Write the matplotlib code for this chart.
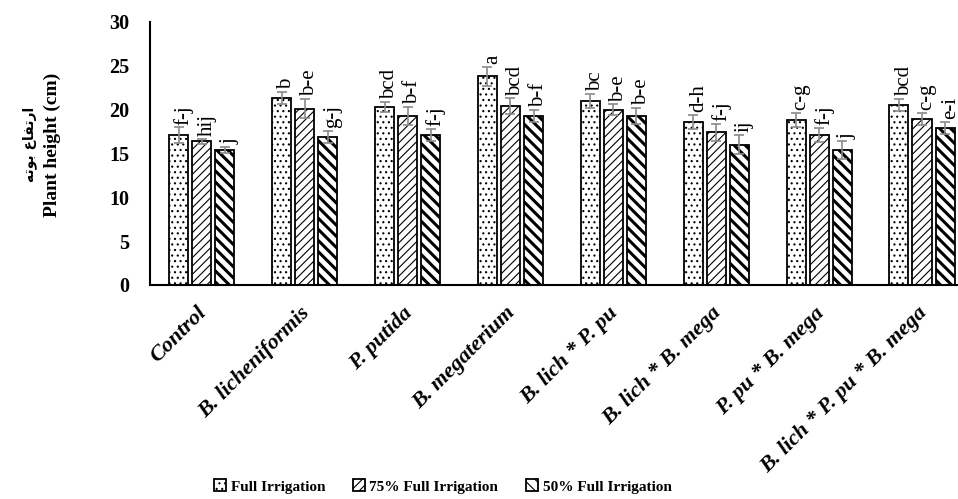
import numpy as np
import matplotlib
matplotlib.use("Agg")
import matplotlib.pyplot as plt
import matplotlib.transforms as mtransforms

plt.rcParams['font.family'] = ['Liberation Serif', 'DejaVu Sans']
plt.rcParams['hatch.linewidth'] = 0.8

# treatments and irrigation levels
treatments = ['Control', 'B. licheniformis', 'P. putida', 'B. megaterium',
              'B. lich * P. pu', 'B. lich * B. mega', 'P. pu * B. mega',
              'B. lich * P. pu * B. mega']
levels = ['Full Irrigation', '75% Full Irrigation', '50% Full Irrigation']

# plant height (cm)
full = [17.1, 21.3, 20.3, 23.8, 21.0, 18.6, 18.8, 20.5]
i75 = [16.4, 20.1, 19.3, 20.4, 20.0, 17.4, 17.1, 18.9]
i50 = [15.4, 16.9, 17.1, 19.3, 19.3, 16.0, 15.4, 17.9]

# standard errors
full_err = [0.9, 0.7, 0.6, 1.1, 0.8, 0.8, 0.8, 0.7]
i75_err = [0.3, 1.1, 1.0, 0.9, 0.6, 1.0, 0.8, 0.7]
i50_err = [0.35, 0.7, 0.7, 0.7, 0.9, 1.1, 1.0, 0.7]

# Duncan letters
full_lab = ['f-j', 'b', 'bcd', 'a', 'bc', 'd-h', 'c-g', 'bcd']
i75_lab = ['hij', 'b-e', 'b-f', 'bcd', 'b-e', 'f-j', 'f-j', 'c-g']
i50_lab = ['j', 'g-j', 'f-j', 'b-f', 'b-e', 'ij', 'j', 'e-i']

fig = plt.figure(figsize=(9.58, 4.99), dpi=100)
ax = fig.add_axes([0.157, 0.429, 0.843, 0.527])

x = np.arange(len(treatments))
w = 0.185
step = 0.224

series = [(full, full_err, full_lab, '...', 0.8),
          (i75, i75_err, i75_lab, '////', 0.8),
          (i50, i50_err, i50_lab, '\\\\\\', 2.2)]

handles = []
for k, (vals, errs, labs, hatch, hlw) in enumerate(series):
    pos = x + (k - 1) * step
    bars = ax.bar(pos, vals, width=w, facecolor='white', edgecolor='black',
                  linewidth=1.3, hatch=hatch, label=levels[k], zorder=2)
    for b in bars:
        if hasattr(b, 'set_hatch_linewidth'):
            b.set_hatch_linewidth(hlw)
    handles.append(bars)
    ax.errorbar(pos, vals, yerr=errs, fmt='none', ecolor='#8a8a8a',
                elinewidth=1.2, capsize=3.6, capthick=1.2, zorder=3)
    for p, v, e, t in zip(pos, vals, errs, labs):
        ax.text(p + 0.05, v + e + 0.3, t, rotation=90, ha='center', va='bottom',
                fontsize=15, family=['Liberation Serif'])

ax.set_xlim(-0.5, 7.35)
ax.set_ylim(0, 30)
ax.set_yticks(range(0, 31, 5))
ax.set_xticks(x)
ax.set_xticklabels(treatments, rotation=45, ha='right', rotation_mode='anchor',
                   fontsize=16, fontweight='bold', fontstyle='italic')
for lbl in ax.get_yticklabels():
    lbl.set_fontweight('bold')
    lbl.set_fontsize(14.5)
ax.tick_params(axis='y', length=0, pad=15)
ax.tick_params(axis='x', length=0, pad=13)

# nudge the slanted names a little to the left
shift = mtransforms.ScaledTranslation(-0.05, 0, fig.dpi_scale_trans)
for tick in ax.xaxis.get_major_ticks():
    tick.label1.set_transform(tick.label1.get_transform() + shift)

for s in ['top', 'right']:
    ax.spines[s].set_visible(False)
for s in ['left', 'bottom']:
    ax.spines[s].set_linewidth(1.5)

# two-line y label: Persian (pre-shaped, visual order) and English
fa_label = '\ufeea\ufe97\ufeee\ufe91 \ufec9\ufe8e\ufed4\ufe97\ufead\ufe8d'
fig.text(0.031, 0.71, fa_label, rotation=90, ha='center', va='center',
         fontsize=10, fontweight='bold', family=['DejaVu Sans'])
fig.text(0.055, 0.71, 'Plant height (cm)', rotation=90, ha='center', va='center',
         fontsize=14, fontweight='bold')

leg = fig.legend(handles=handles, labels=levels, loc='center',
                 bbox_to_anchor=(0.462, 0.025), ncol=3, frameon=False,
                 prop={'family': 'Liberation Serif', 'weight': 'bold', 'size': 11},
                 handlelength=0.8, handleheight=0.8, handletextpad=0.3,
                 columnspacing=1.8)

fig.savefig('out.png', dpi=100)
